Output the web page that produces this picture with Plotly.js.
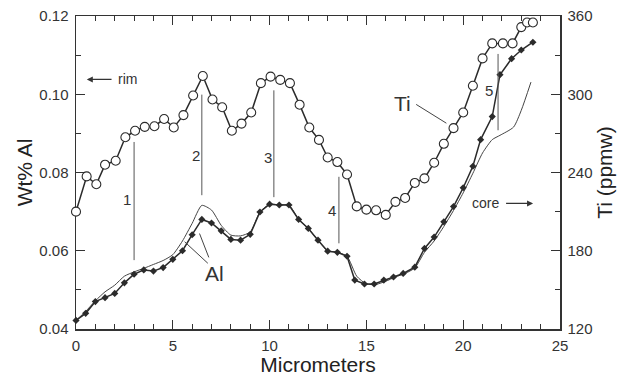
<!DOCTYPE html>
<html><head><meta charset="utf-8">
<script src="https://cdn.plot.ly/plotly-3.0.1.min.js"></script>
<style>html,body{margin:0;padding:0;background:#fff}#chart{width:627px;height:378px}</style>
</head><body><div id="chart"></div>
<script>
// Al (wt%) measured profile, filled diamonds
const alX  = [0,0.5,1,1.5,2,2.5,3,3.5,4,4.5,5,5.5,6,6.5,7,7.5,8,8.5,9,9.5,10,10.5,11,11.5,12,12.5,13,13.5,14,14.4,14.9,15.4,15.9,16.4,16.9,17.5,18,18.5,19,19.5,20,20.5,20.9,21.5,21.9,22.5,23,23.6];
const alWt = [0.0422,0.0440,0.0470,0.0480,0.0491,0.0518,0.0540,0.0551,0.0548,0.0557,0.0578,0.0600,0.0641,0.0680,0.0671,0.0651,0.0629,0.0627,0.0642,0.0699,0.0719,0.0717,0.0717,0.0680,0.0657,0.0627,0.0599,0.0596,0.0586,0.0525,0.0515,0.0515,0.0525,0.0533,0.0542,0.0558,0.0606,0.0635,0.0674,0.0713,0.0761,0.0816,0.0884,0.0943,0.1050,0.1091,0.1113,0.1133];
// Al second profile, thin line without markers
const al2X  = [0,0.5,1,1.5,2,2.5,3,3.5,4,4.5,5,5.5,6,6.5,7,7.5,8,8.5,9,9.5,10,10.5,11,11.5,12,12.5,13,13.5,14,14.5,15,15.5,16,16.5,17,17.5,18,18.5,19,19.5,20,20.5,21,21.5,21.9,22.6,23,23.5];
const al2Wt = [0.0422,0.0445,0.0472,0.0495,0.0512,0.0535,0.0546,0.0555,0.0565,0.0575,0.0590,0.0625,0.0670,0.0716,0.0704,0.0665,0.0640,0.0638,0.0648,0.0699,0.0719,0.0717,0.0717,0.0680,0.0657,0.0627,0.0599,0.0596,0.0586,0.0535,0.0515,0.0514,0.0522,0.0533,0.0542,0.0556,0.0596,0.0625,0.0662,0.0703,0.0748,0.0798,0.0850,0.0884,0.0895,0.0916,0.0959,0.1031];
// Ti (ppmw) profile, open circles
const tiX   = [0,0.55,1.05,1.5,2.05,2.55,3.05,3.55,4.05,4.55,5.05,5.55,6.05,6.55,7.05,7.55,8.05,8.55,9.05,9.55,10.05,10.55,11.05,11.55,12.05,12.55,13,13.5,14,14.5,15,15.5,16,16.5,17,17.5,18,18.5,19,19.5,20,20.5,21,21.5,22.05,22.55,23,23.3,23.6];
const tiPpm = [210,237,231,246,249,267,272,275,275.5,281,274.5,284,299,314,296,290,272,277.5,286,308.5,313.5,311,308.5,292,274.5,265,251.5,248,238.5,214,211.5,211,207.5,217.5,220.5,232,235.5,247.5,262,274,286,306.5,327.5,339,339,339,351.5,355,355];

// numbered zone markers
const zoneLabels = ['1','2','3','4','5'];
const zoneX      = [3.0,6.5,10.22,13.58,21.8];
const zoneTop    = [0.0878,0.0999,0.1010,0.0789,0.1103];
const zoneBottom = [0.0576,0.0742,0.0737,0.0619,0.0908];
const zoneLabelX = [2.61,6.18,9.9,13.2,21.32];
const zoneLabelY = [0.0732,0.0844,0.0839,0.0704,0.1010];

const ink = '#2b2b2b';
const fontFam = 'Arial, "Liberation Sans", Helvetica, sans-serif';

const traces = [
  {x: al2X, y: al2Wt, type:'scatter', mode:'lines', line:{color:'#444', width:1, shape:'spline', smoothing:0.6}, hoverinfo:'skip', cliponaxis:false},
  {x: alX, y: alWt, type:'scatter', mode:'lines+markers', line:{color:ink, width:1.5},
   marker:{symbol:'diamond', size:5.5, color:ink}, cliponaxis:false},
  {x: tiX, y: tiPpm, type:'scatter', mode:'lines+markers', yaxis:'y2', line:{color:ink, width:1.5},
   marker:{symbol:'circle', size:9, color:'#fff', line:{color:ink, width:1.1}}, cliponaxis:false}
];

const shapes = zoneX.map((x,i)=>({type:'line', xref:'x', yref:'y', x0:x, x1:x, y0:zoneBottom[i], y1:zoneTop[i], line:{color:'#555', width:1}}));
// leader lines
shapes.push({type:'line', xref:'x', yref:'y', x0:17.57, y0:0.0974, x1:19.13, y1:0.0926, line:{color:'#444', width:1}});
shapes.push({type:'line', xref:'x', yref:'y', x0:6.81, y0:0.0568, x1:5.61, y1:0.0623, line:{color:'#444', width:1}});
shapes.push({type:'line', xref:'x', yref:'y', x0:6.86, y0:0.0583, x1:6.38, y1:0.0644, line:{color:'#444', width:1}});

const annotations = zoneLabels.map((t,i)=>({x:zoneLabelX[i], y:zoneLabelY[i], xref:'x', yref:'y', text:t, showarrow:false, font:{size:15, color:'#333', family:fontFam}}));
annotations.push({x:16.87, y:0.0976, xref:'x', yref:'y', text:'Ti', showarrow:false, font:{size:21, color:'#333', family:fontFam}});
annotations.push({x:7.16, y:0.0543, xref:'x', yref:'y', text:'Al', showarrow:false, font:{size:21, color:'#333', family:fontFam}});
annotations.push({x:2.09, y:0.1038, xref:'x', yref:'y', text:'rim', xanchor:'left', showarrow:false, font:{size:14, color:'#333', family:fontFam}});
annotations.push({x:0.56, y:0.1038, ax:1.99, ay:0.1038, xref:'x', yref:'y', axref:'x', ayref:'y', text:' ', showarrow:true, arrowhead:2, arrowsize:1, arrowwidth:1.2, arrowcolor:'#333'});
annotations.push({x:21.94, y:0.0721, xref:'x', yref:'y', text:'core', xanchor:'right', showarrow:false, font:{size:14, color:'#333', family:fontFam}});
annotations.push({x:23.61, y:0.0721, ax:22.06, ay:0.0721, xref:'x', yref:'y', axref:'x', ayref:'y', text:' ', showarrow:true, arrowhead:2, arrowsize:1, arrowwidth:1.2, arrowcolor:'#333'});

const layout = {
  width:627, height:378,
  margin:{l:76, r:67, t:16, b:49},
  paper_bgcolor:'#fff', plot_bgcolor:'#fff',
  showlegend:false,
  font:{family:fontFam, color:'#333'},
  xaxis:{range:[0,25], tick0:0, dtick:5, ticks:'inside', ticklen:9, tickwidth:1.2, tickcolor:'#333',
    minor:{dtick:1, ticks:'inside', ticklen:5, tickwidth:1, tickcolor:'#333'},
    showline:true, linecolor:'#333', linewidth:1.5, mirror:'ticks', showgrid:false, zeroline:false, layer:'below traces',
    tickfont:{size:15, color:'#333'}, ticklabelstandoff:2,
    title:{text:'Micrometers', font:{size:21, color:'#222'}, standoff:4}},
  yaxis:{range:[0.04,0.12], tick0:0.04, dtick:0.02, tickformat:'.2f', ticks:'inside', ticklen:9, tickwidth:1.2, tickcolor:'#333',
    minor:{dtick:0.01, ticks:'inside', ticklen:5, tickwidth:1, tickcolor:'#333'},
    showline:true, linecolor:'#333', linewidth:1.5, showgrid:false, zeroline:false, layer:'below traces',
    tickfont:{size:15, color:'#333'}, ticklabelstandoff:3,
    title:{text:'Wt% Al', font:{size:21, color:'#222'}, standoff:1}},
  yaxis2:{range:[120,360], tick0:120, dtick:60, overlaying:'y', side:'right', ticks:'inside', ticklen:9, tickwidth:1.2, tickcolor:'#333',
    minor:{dtick:30, ticks:'inside', ticklen:5, tickwidth:1, tickcolor:'#333'},
    showline:true, linecolor:'#333', linewidth:1.5, showgrid:false, zeroline:false, layer:'below traces',
    tickfont:{size:15, color:'#333'}, ticklabelstandoff:3,
    title:{text:'Ti (ppmw)', font:{size:21, color:'#222'}, standoff:6}},
  shapes: shapes,
  annotations: annotations
};

Plotly.newPlot('chart', traces, layout, {displayModeBar:false, staticPlot:true});
</script>
</body></html>
